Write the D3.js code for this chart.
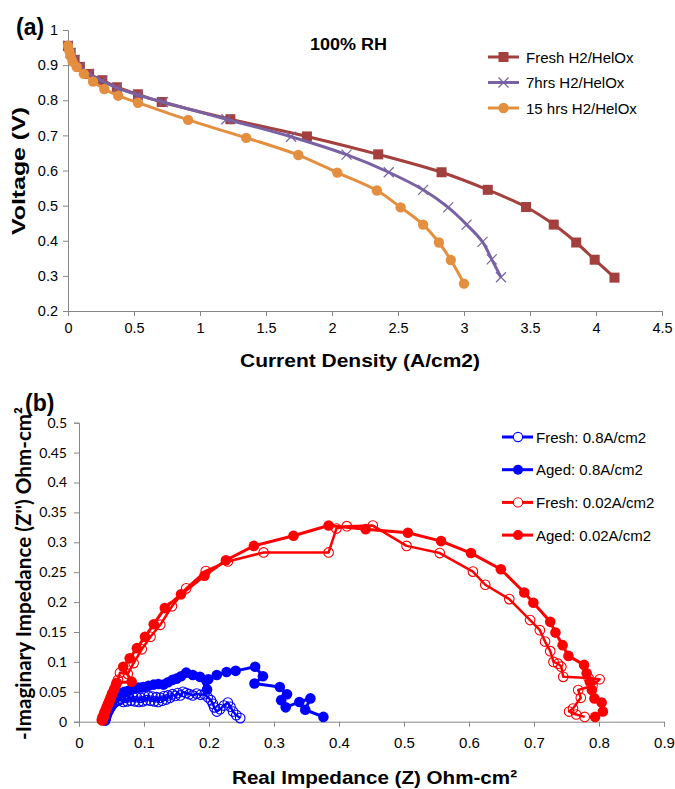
<!DOCTYPE html>
<html>
<head>
<meta charset="utf-8">
<script src="https://cdn.jsdelivr.net/npm/d3@7"></script>
<style>
  body { margin: 0; background: #fff; }
  svg text { fill: #000; }
  .narrow { font-family: "Liberation Sans Narrow", "Arial Narrow", "Liberation Sans", Arial, sans-serif; }
  .calib  { font-family: Lato, "Open Sans", sans-serif; }
  .bold   { font-family: "Liberation Sans", Arial, sans-serif; font-weight: bold; }
  .axis path, .axis line { stroke: #878787; }
</style>
</head>
<body>
<svg id="chart" width="675" height="789"></svg>
<script>
// ---- panel (a): polarisation curves ----
const freshI = [0, 0.02, 0.05, 0.09, 0.16, 0.26, 0.37, 0.53, 0.71, 1.23, 1.81, 2.35, 2.83, 3.18, 3.47, 3.68, 3.85, 3.99, 4.14];
const freshV = [0.955, 0.935, 0.915, 0.895, 0.875, 0.857, 0.837, 0.817, 0.795, 0.746, 0.697, 0.646, 0.595, 0.545, 0.496, 0.446, 0.395, 0.346, 0.295];
const hrs7I  = [0, 0.02, 0.05, 0.09, 0.16, 0.26, 0.37, 0.53, 0.72, 1.2, 1.69, 2.11, 2.43, 2.69, 2.88, 3.02, 3.14, 3.21, 3.28];
const hrs7V  = [0.955, 0.935, 0.915, 0.895, 0.875, 0.855, 0.835, 0.815, 0.795, 0.746, 0.696, 0.645, 0.595, 0.545, 0.495, 0.446, 0.397, 0.347, 0.296];
const hrs15I = [0, 0.01, 0.02, 0.035, 0.066, 0.12, 0.19, 0.275, 0.38, 0.53, 0.91, 1.35, 1.745, 2.04, 2.34, 2.52, 2.69, 2.81, 2.9, 3.0];
const hrs15V = [0.955, 0.94, 0.925, 0.91, 0.895, 0.875, 0.853, 0.832, 0.813, 0.793, 0.744, 0.693, 0.644, 0.594, 0.543, 0.495, 0.446, 0.395, 0.345, 0.278];

const aXTicks = [0, 0.5, 1, 1.5, 2, 2.5, 3, 3.5, 4, 4.5];
const aYTicks = [0.2, 0.3, 0.4, 0.5, 0.6, 0.7, 0.8, 0.9, 1];

// ---- panel (b): impedance spectra [Z', -Z''] ----
const fresh08 = [[0.040,0.002],[0.041,0.005],[0.042,0.009],[0.043,0.013],[0.045,0.017],[0.047,0.021],[0.049,0.025],[0.051,0.028],[0.053,0.031],[0.056,0.033],[0.059,0.035],[0.062,0.036],[0.065,0.038],[0.068,0.033],[0.071,0.040],[0.074,0.034],[0.077,0.041],[0.080,0.035],[0.083,0.042],[0.086,0.034],[0.089,0.041],[0.092,0.033],[0.095,0.040],[0.098,0.034],[0.101,0.042],[0.104,0.036],[0.107,0.043],[0.110,0.035],[0.113,0.042],[0.116,0.034],[0.119,0.041],[0.122,0.033],[0.125,0.040],[0.128,0.035],[0.131,0.043],[0.134,0.037],[0.137,0.044],[0.140,0.040],[0.144,0.046],[0.148,0.043],[0.152,0.048],[0.156,0.044],[0.160,0.050],[0.165,0.048],[0.170,0.046],[0.175,0.044],[0.181,0.047],[0.187,0.045],[0.193,0.046],[0.198,0.041],[0.203,0.036],[0.206,0.030],[0.208,0.024],[0.212,0.017],[0.217,0.021],[0.223,0.027],[0.229,0.032],[0.233,0.025],[0.237,0.017],[0.242,0.011],[0.248,0.006]];
const aged08 = [[0.040,0.002],[0.041,0.006],[0.042,0.010],[0.043,0.015],[0.045,0.020],[0.047,0.025],[0.049,0.030],[0.052,0.035],[0.055,0.040],[0.059,0.044],[0.064,0.047],[0.070,0.050],[0.077,0.052],[0.084,0.055],[0.092,0.057],[0.099,0.058],[0.107,0.060],[0.115,0.062],[0.122,0.063],[0.130,0.062],[0.137,0.066],[0.144,0.070],[0.150,0.072],[0.157,0.076],[0.165,0.082],[0.175,0.078],[0.186,0.075],[0.197,0.054],[0.199,0.071],[0.212,0.078],[0.227,0.083],[0.241,0.085],[0.271,0.092],[0.283,0.076],[0.270,0.064],[0.309,0.058],[0.320,0.046],[0.311,0.036],[0.318,0.024],[0.339,0.033],[0.356,0.039],[0.348,0.020],[0.376,0.008]];
const fresh002 = [[0.036,0.002],[0.037,0.005],[0.038,0.008],[0.039,0.012],[0.040,0.016],[0.042,0.020],[0.043,0.025],[0.045,0.030],[0.047,0.035],[0.049,0.041],[0.051,0.047],[0.054,0.054],[0.057,0.062],[0.060,0.070],[0.063,0.082],[0.075,0.080],[0.084,0.098],[0.0965,0.121],[0.110,0.142],[0.125,0.162],[0.143,0.193],[0.165,0.223],[0.195,0.252],[0.229,0.268],[0.284,0.283],[0.384,0.283],[0.396,0.323],[0.412,0.327],[0.452,0.328],[0.504,0.294],[0.555,0.282],[0.606,0.251],[0.625,0.229],[0.662,0.205],[0.694,0.170],[0.709,0.153],[0.717,0.134],[0.725,0.118],[0.730,0.100],[0.737,0.097],[0.742,0.092],[0.745,0.075],[0.784,0.073],[0.801,0.071],[0.790,0.060],[0.768,0.053],[0.772,0.040],[0.760,0.022],[0.754,0.017],[0.765,0.012],[0.778,0.008]];
const aged002 = [[0.035,0.003],[0.036,0.007],[0.038,0.011],[0.039,0.015],[0.041,0.020],[0.043,0.025],[0.045,0.030],[0.047,0.035],[0.049,0.041],[0.052,0.048],[0.055,0.056],[0.058,0.065],[0.081,0.067],[0.068,0.092],[0.078,0.106],[0.089,0.123],[0.1015,0.142],[0.115,0.163],[0.132,0.190],[0.157,0.213],[0.193,0.244],[0.226,0.270],[0.269,0.294],[0.330,0.311],[0.384,0.328],[0.441,0.322],[0.506,0.316],[0.557,0.302],[0.603,0.282],[0.649,0.255],[0.685,0.216],[0.699,0.199],[0.725,0.167],[0.733,0.149],[0.744,0.128],[0.753,0.110],[0.777,0.095],[0.781,0.081],[0.786,0.067],[0.789,0.053],[0.793,0.039],[0.804,0.032],[0.806,0.017],[0.794,0.008]];

const bXTicks = [0, 0.1, 0.2, 0.3, 0.4, 0.5, 0.6, 0.7, 0.8, 0.9];
const bYTicks = [0, 0.05, 0.1, 0.15, 0.2, 0.25, 0.3, 0.35, 0.4, 0.45, 0.5];

const svg = d3.select('#chart');

// ── Panel (a) ─────────────────────────────────────────────
const xA = d3.scaleLinear().domain([0, 4.5]).range([68, 662]);
const yA = d3.scaleLinear().domain([0.2, 1]).range([311, 30]);

const gA = svg.append('g');

gA.append('g').attr('class', 'axis narrow')
  .attr('transform', 'translate(0,311)')
  .call(d3.axisBottom(xA).tickValues(aXTicks).tickSize(5).tickPadding(7).tickFormat(d3.format('')))
  .call(g => g.selectAll('text').attr('font-size', 14.5).attr('font-family', null).attr('fill', '#000'));

gA.append('g').attr('class', 'axis narrow')
  .attr('transform', 'translate(68,0)')
  .call(d3.axisLeft(yA).tickValues(aYTicks).tickSize(5).tickPadding(5).tickFormat(d3.format('')))
  .call(g => g.selectAll('text').attr('font-size', 14.5).attr('font-family', null).attr('fill', '#000'));

const seriesA = [
  { name: 'Fresh H2/HelOx', I: freshI, V: freshV, color: '#A33F3C', marker: 'square' },
  { name: '7hrs H2/HelOx', I: hrs7I, V: hrs7V, color: '#7862A3', marker: 'cross' },
  { name: '15 hrs H2/HelOx', I: hrs15I, V: hrs15V, color: '#E38F3F', marker: 'circle' }
];

function drawMarkerA(sel, type, color) {
  if (type === 'square') {
    sel.append('rect').attr('x', -5).attr('y', -5).attr('width', 10).attr('height', 10)
      .attr('fill', color);
  } else if (type === 'circle') {
    sel.append('circle').attr('r', 5.2).attr('fill', color);
  } else {
    sel.append('path').attr('d', 'M-5,-5L5,5M-5,5L5,-5')
      .attr('stroke', color).attr('stroke-width', 1.2).attr('fill', 'none');
  }
}

const lineA = d3.line().curve(d3.curveCatmullRom.alpha(0.5));

seriesA.forEach(s => {
  const pts = s.I.map((v, i) => [xA(v), yA(s.V[i])]);
  gA.append('path').attr('d', lineA(pts))
    .attr('fill', 'none').attr('stroke', s.color).attr('stroke-width', 3);
  pts.forEach(p => {
    const m = gA.append('g').attr('transform', `translate(${p[0]},${p[1]})`);
    drawMarkerA(m, s.marker, s.color);
  });
});

// legend (a)
seriesA.forEach((s, i) => {
  const ly = 57 + i * 25.5;
  const lg = gA.append('g').attr('transform', `translate(488,${ly})`);
  lg.append('line').attr('x1', 0).attr('x2', 31).attr('stroke', s.color).attr('stroke-width', 3);
  const m = lg.append('g').attr('transform', 'translate(15.5,0)');
  drawMarkerA(m, s.marker, s.color);
  lg.append('text').attr('class', 'narrow').attr('x', 38).attr('y', 5.5)
    .attr('font-size', 15).text(s.name);
});

gA.append('text').attr('class', 'bold').attr('x', 310).attr('y', 50)
  .attr('font-size', 16).attr('textLength', 77).attr('lengthAdjust', 'spacingAndGlyphs')
  .text('100% RH');
gA.append('text').attr('class', 'bold').attr('x', 16).attr('y', 35)
  .attr('font-size', 23).text('(a)');
gA.append('text').attr('class', 'bold').attr('x', 240).attr('y', 367)
  .attr('font-size', 19).attr('textLength', 240).attr('lengthAdjust', 'spacingAndGlyphs')
  .text('Current Density (A/cm2)');
gA.append('text').attr('class', 'bold')
  .attr('transform', 'translate(25,235) rotate(-90)')
  .attr('font-size', 19).attr('textLength', 128).attr('lengthAdjust', 'spacingAndGlyphs')
  .text('Voltage (V)');

// ── Panel (b) ─────────────────────────────────────────────
const xB = d3.scaleLinear().domain([0, 0.9]).range([79, 664]);
const yB = d3.scaleLinear().domain([0, 0.5]).range([721.7, 422.7]);

const gB = svg.append('g');

gB.append('g').attr('class', 'axis narrow')
  .attr('transform', 'translate(0,721.7)')
  .call(d3.axisBottom(xB).tickValues(bXTicks).tickSize(5).tickPadding(11).tickFormat(d3.format('')))
  .call(g => g.selectAll('text').attr('font-size', 15).attr('font-family', null).attr('fill', '#000'));

gB.append('g').attr('class', 'axis calib')
  .attr('transform', 'translate(79,0)')
  .call(d3.axisLeft(yB).tickValues(bYTicks).tickSize(5).tickPadding(7).tickFormat(d3.format('')))
  .call(g => g.selectAll('text').attr('font-size', 14).attr('font-family', null).attr('fill', '#000'));

const seriesB = [
  { name: 'Fresh: 0.8A/cm2', data: fresh08, color: '#0000FF', filled: false },
  { name: 'Aged: 0.8A/cm2', data: aged08, color: '#0000FF', filled: true },
  { name: 'Fresh: 0.02A/cm2', data: fresh002, color: '#FF0000', filled: false },
  { name: 'Aged: 0.02A/cm2', data: aged002, color: '#FF0000', filled: true }
];

const lineB = d3.line().x(d => xB(d[0])).y(d => yB(d[1]));

seriesB.forEach(s => {
  gB.append('path').attr('d', lineB(s.data))
    .attr('fill', 'none').attr('stroke', s.color).attr('stroke-width', s.filled ? 3 : 2.5)
    .attr('stroke-linejoin', 'round');
  gB.append('g').selectAll('circle').data(s.data).join('circle')
    .attr('cx', d => xB(d[0])).attr('cy', d => yB(d[1]))
    .attr('r', s.filled ? 5.3 : 4.8)
    .attr('fill', s.filled ? s.color : 'none')
    .attr('stroke', s.color).attr('stroke-width', s.filled ? 0 : 1.1);
});

// legend (b)
seriesB.forEach((s, i) => {
  const ly = 437 + i * 32.7;
  const lg = gB.append('g').attr('transform', `translate(502,${ly})`);
  lg.append('line').attr('x1', 0).attr('x2', 31).attr('stroke', s.color).attr('stroke-width', 3);
  lg.append('circle').attr('cx', 16).attr('r', s.filled ? 5 : 4.6)
    .attr('fill', s.filled ? s.color : '#fff')
    .attr('stroke', s.color).attr('stroke-width', s.filled ? 0 : 1.1);
  lg.append('text').attr('class', 'narrow').attr('x', 34).attr('y', 5.5)
    .attr('font-size', 15).text(s.name);
});

gB.append('text').attr('class', 'bold').attr('x', 25).attr('y', 411)
  .attr('font-size', 23).text('(b)');
gB.append('text').attr('class', 'bold').attr('x', 232).attr('y', 784)
  .attr('font-size', 19).attr('textLength', 285).attr('lengthAdjust', 'spacingAndGlyphs')
  .text('Real Impedance (Z) Ohm-cm²');
gB.append('text').attr('class', 'calib')
  .attr('transform', 'translate(31,740) rotate(-90)')
  .attr('font-size', 20).attr('font-weight', 'bold')
  .attr('textLength', 333).attr('lengthAdjust', 'spacingAndGlyphs')
  .text('-Imaginary Impedance (Z\'\') Ohm-cm²');
</script>
</body>
</html>
